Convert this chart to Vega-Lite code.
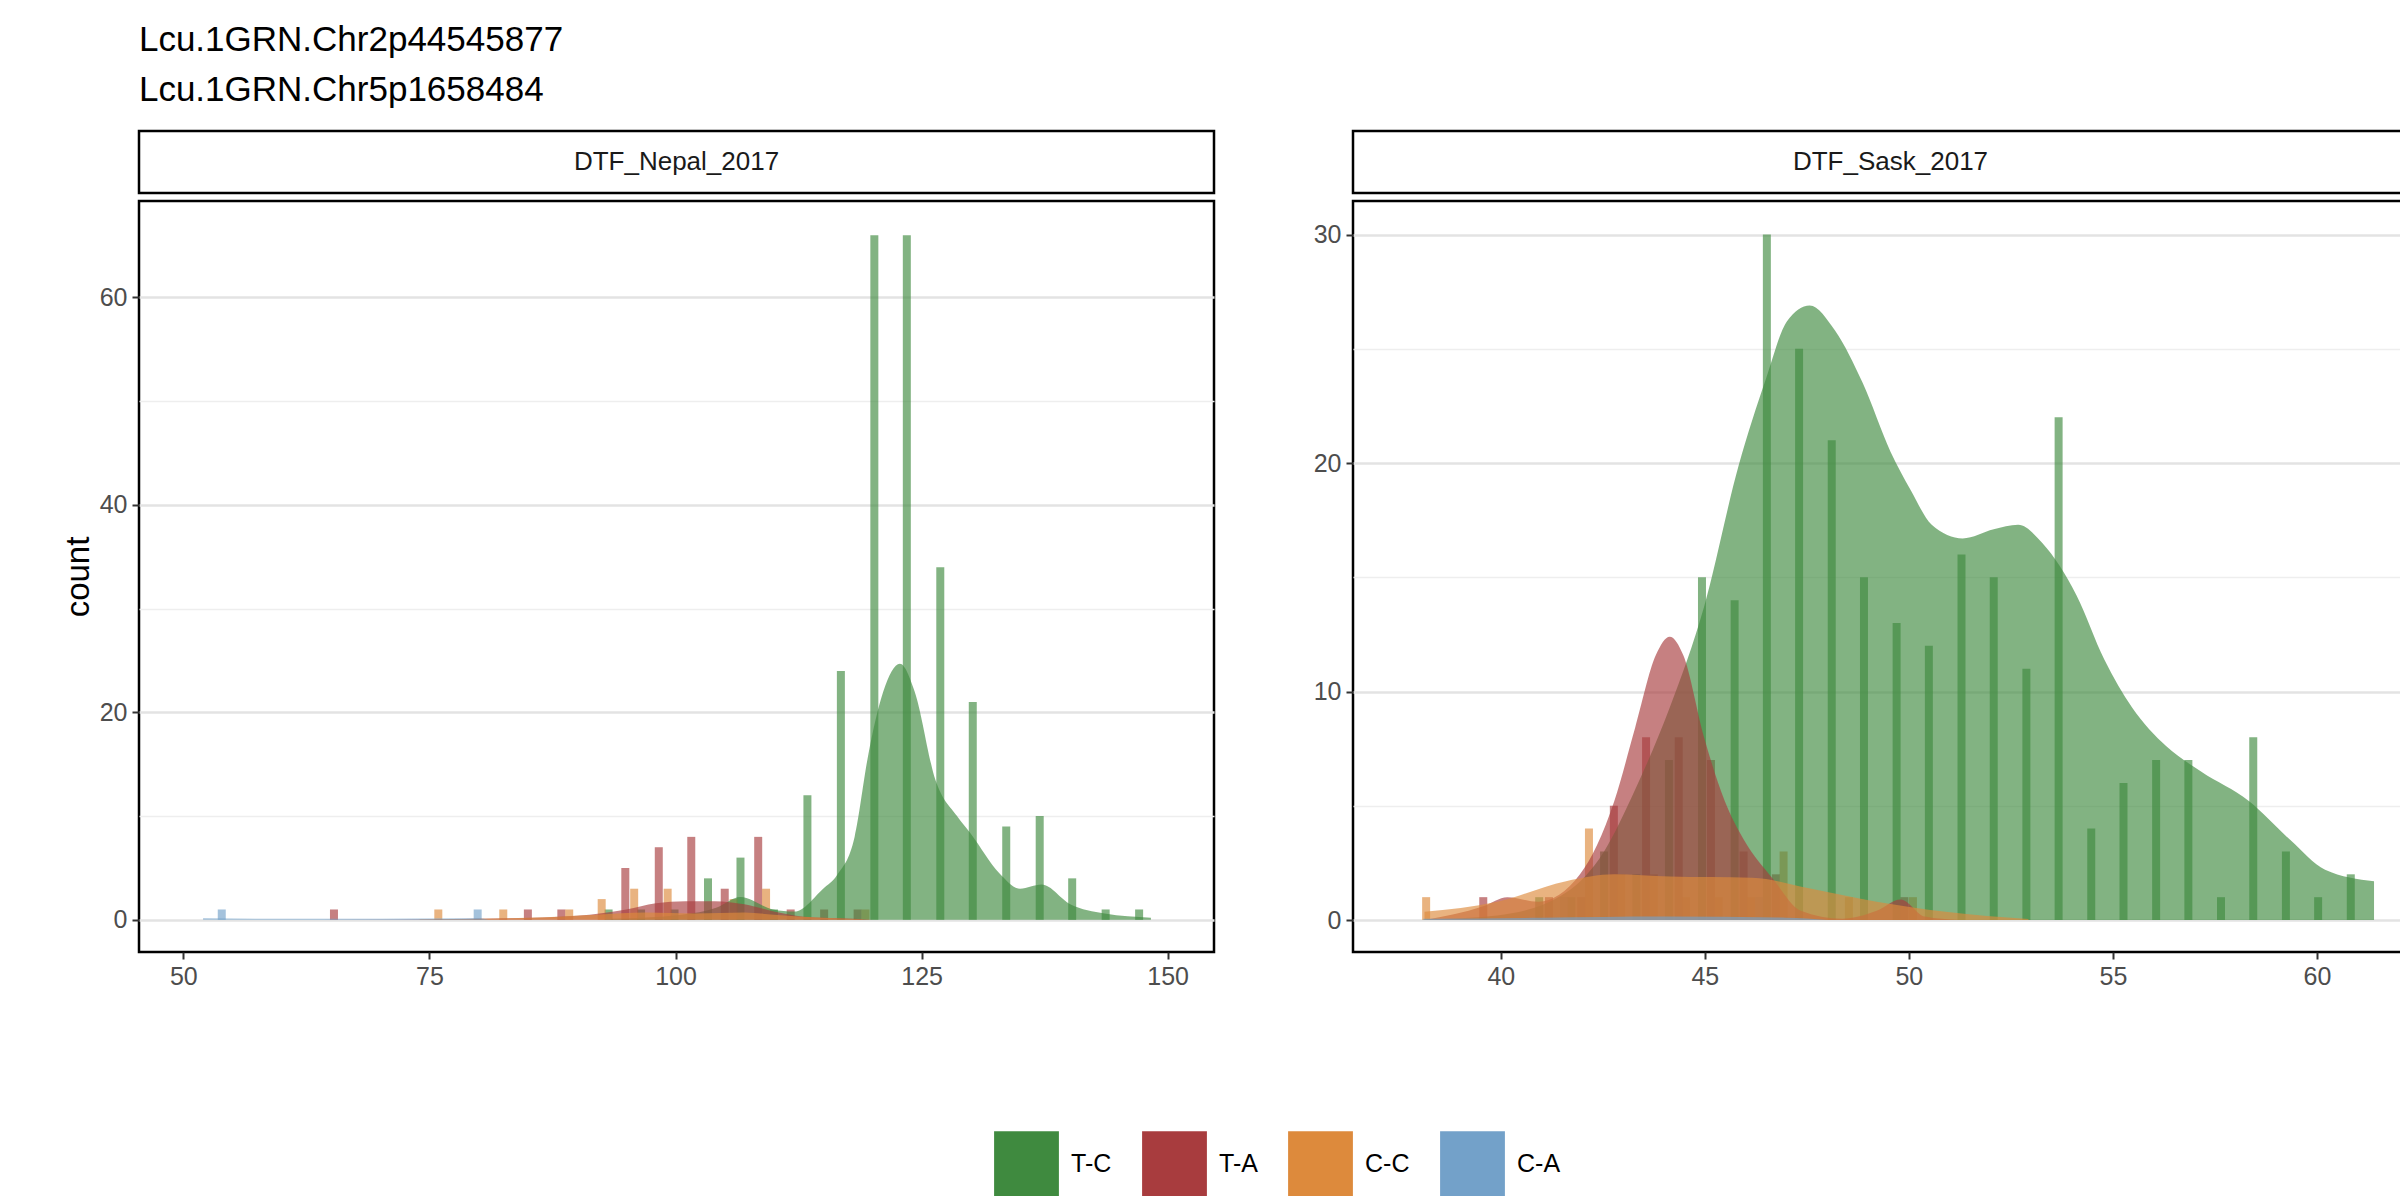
{
  "$schema": "https://vega.github.io/schema/vega-lite/v6.json",
  "padding": {"left": 60, "top": 22, "right": 25, "bottom": 10},
  "background": "white",
  "title": {"text": ["Lcu.1GRN.Chr2p44545877", "Lcu.1GRN.Chr5p1658484"], "anchor": "start", "fontSize": 35, "fontWeight": "normal", "font": "Liberation Sans", "color": "black", "lineHeight": 50, "offset": 22, "dx": 78},
  "config": {
    "font": "Liberation Sans",
    "view": {"stroke": "black", "strokeWidth": 2.5},
    "axis": {"labelFontSize": 25, "labelColor": "#4d4d4d", "tickColor": "#333333", "tickSize": 7, "tickWidth": 2, "domain": false, "titleFontWeight": "normal", "titleFontSize": 33, "titleColor": "black", "labelPadding": 5},
    "legend": {"orient": "none", "legendX": 855, "legendY": 1000, "direction": "horizontal", "symbolType": "square", "symbolSize": 4200, "labelFontSize": 25, "labelColor": "black", "columnPadding": 30, "symbolOpacity": 1, "symbolStrokeWidth": 0, "title": null, "labelOffset": 12}
  },
  "datasets": {
    "bars": [
      {"panel": "Nepal", "geno": "T-C", "x": 93.2, "count": 1},
      {"panel": "Nepal", "geno": "T-C", "x": 96.5, "count": 1},
      {"panel": "Nepal", "geno": "T-C", "x": 99.9, "count": 1},
      {"panel": "Nepal", "geno": "T-C", "x": 103.3, "count": 4},
      {"panel": "Nepal", "geno": "T-C", "x": 106.6, "count": 6},
      {"panel": "Nepal", "geno": "T-C", "x": 110.0, "count": 1},
      {"panel": "Nepal", "geno": "T-C", "x": 113.4, "count": 12},
      {"panel": "Nepal", "geno": "T-C", "x": 116.8, "count": 24},
      {"panel": "Nepal", "geno": "T-C", "x": 120.2, "count": 66},
      {"panel": "Nepal", "geno": "T-C", "x": 123.5, "count": 66},
      {"panel": "Nepal", "geno": "T-C", "x": 126.9, "count": 34},
      {"panel": "Nepal", "geno": "T-C", "x": 130.2, "count": 21},
      {"panel": "Nepal", "geno": "T-C", "x": 133.6, "count": 9},
      {"panel": "Nepal", "geno": "T-C", "x": 137.0, "count": 10},
      {"panel": "Nepal", "geno": "T-C", "x": 140.3, "count": 4},
      {"panel": "Nepal", "geno": "T-C", "x": 143.7, "count": 1},
      {"panel": "Nepal", "geno": "T-C", "x": 147.1, "count": 1},
      {"panel": "Nepal", "geno": "T-A", "x": 65.3, "count": 1},
      {"panel": "Nepal", "geno": "T-A", "x": 85.0, "count": 1},
      {"panel": "Nepal", "geno": "T-A", "x": 88.4, "count": 1},
      {"panel": "Nepal", "geno": "T-A", "x": 94.9, "count": 5},
      {"panel": "Nepal", "geno": "T-A", "x": 98.3, "count": 7},
      {"panel": "Nepal", "geno": "T-A", "x": 101.6, "count": 8},
      {"panel": "Nepal", "geno": "T-A", "x": 105.0, "count": 3},
      {"panel": "Nepal", "geno": "T-A", "x": 108.4, "count": 8},
      {"panel": "Nepal", "geno": "T-A", "x": 111.7, "count": 1},
      {"panel": "Nepal", "geno": "T-A", "x": 115.1, "count": 1},
      {"panel": "Nepal", "geno": "T-A", "x": 118.5, "count": 1},
      {"panel": "Nepal", "geno": "C-C", "x": 75.9, "count": 1},
      {"panel": "Nepal", "geno": "C-C", "x": 82.5, "count": 1},
      {"panel": "Nepal", "geno": "C-C", "x": 89.2, "count": 1},
      {"panel": "Nepal", "geno": "C-C", "x": 92.5, "count": 2},
      {"panel": "Nepal", "geno": "C-C", "x": 95.8, "count": 3},
      {"panel": "Nepal", "geno": "C-C", "x": 99.2, "count": 3},
      {"panel": "Nepal", "geno": "C-C", "x": 105.9, "count": 2},
      {"panel": "Nepal", "geno": "C-C", "x": 109.2, "count": 3},
      {"panel": "Nepal", "geno": "C-C", "x": 119.3, "count": 1},
      {"panel": "Nepal", "geno": "C-A", "x": 53.9, "count": 1},
      {"panel": "Nepal", "geno": "C-A", "x": 79.9, "count": 1},
      {"panel": "Sask", "geno": "T-C", "x": 40.94, "count": 1},
      {"panel": "Sask", "geno": "T-C", "x": 41.73, "count": 1},
      {"panel": "Sask", "geno": "T-C", "x": 42.53, "count": 3},
      {"panel": "Sask", "geno": "T-C", "x": 43.32, "count": 2},
      {"panel": "Sask", "geno": "T-C", "x": 44.12, "count": 7},
      {"panel": "Sask", "geno": "T-C", "x": 44.93, "count": 15},
      {"panel": "Sask", "geno": "T-C", "x": 45.73, "count": 14},
      {"panel": "Sask", "geno": "T-C", "x": 46.52, "count": 30},
      {"panel": "Sask", "geno": "T-C", "x": 47.31, "count": 25},
      {"panel": "Sask", "geno": "T-C", "x": 48.11, "count": 21},
      {"panel": "Sask", "geno": "T-C", "x": 48.90, "count": 15},
      {"panel": "Sask", "geno": "T-C", "x": 49.70, "count": 13},
      {"panel": "Sask", "geno": "T-C", "x": 50.49, "count": 12},
      {"panel": "Sask", "geno": "T-C", "x": 51.29, "count": 16},
      {"panel": "Sask", "geno": "T-C", "x": 52.08, "count": 15},
      {"panel": "Sask", "geno": "T-C", "x": 52.88, "count": 11},
      {"panel": "Sask", "geno": "T-C", "x": 53.67, "count": 22},
      {"panel": "Sask", "geno": "T-C", "x": 54.47, "count": 4},
      {"panel": "Sask", "geno": "T-C", "x": 55.26, "count": 6},
      {"panel": "Sask", "geno": "T-C", "x": 56.06, "count": 7},
      {"panel": "Sask", "geno": "T-C", "x": 56.85, "count": 7},
      {"panel": "Sask", "geno": "T-C", "x": 57.65, "count": 1},
      {"panel": "Sask", "geno": "T-C", "x": 58.44, "count": 8},
      {"panel": "Sask", "geno": "T-C", "x": 59.24, "count": 3},
      {"panel": "Sask", "geno": "T-C", "x": 60.03, "count": 1},
      {"panel": "Sask", "geno": "T-C", "x": 60.83, "count": 2},
      {"panel": "Sask", "geno": "T-A", "x": 39.57, "count": 1},
      {"panel": "Sask", "geno": "T-A", "x": 41.18, "count": 1},
      {"panel": "Sask", "geno": "T-A", "x": 41.97, "count": 1},
      {"panel": "Sask", "geno": "T-A", "x": 42.77, "count": 5},
      {"panel": "Sask", "geno": "T-A", "x": 43.56, "count": 8},
      {"panel": "Sask", "geno": "T-A", "x": 44.36, "count": 8},
      {"panel": "Sask", "geno": "T-A", "x": 45.15, "count": 7},
      {"panel": "Sask", "geno": "T-A", "x": 45.95, "count": 3},
      {"panel": "Sask", "geno": "T-A", "x": 46.74, "count": 2},
      {"panel": "Sask", "geno": "T-A", "x": 49.89, "count": 1},
      {"panel": "Sask", "geno": "C-C", "x": 38.17, "count": 1},
      {"panel": "Sask", "geno": "C-C", "x": 42.16, "count": 4},
      {"panel": "Sask", "geno": "C-C", "x": 42.95, "count": 2},
      {"panel": "Sask", "geno": "C-C", "x": 43.75, "count": 2},
      {"panel": "Sask", "geno": "C-C", "x": 44.54, "count": 1},
      {"panel": "Sask", "geno": "C-C", "x": 45.34, "count": 1},
      {"panel": "Sask", "geno": "C-C", "x": 46.13, "count": 1},
      {"panel": "Sask", "geno": "C-C", "x": 46.93, "count": 3},
      {"panel": "Sask", "geno": "C-C", "x": 48.53, "count": 1},
      {"panel": "Sask", "geno": "C-C", "x": 50.10, "count": 1},
      {"panel": "Sask", "geno": "C-A", "x": 41.55, "count": 1},
      {"panel": "Sask", "geno": "C-A", "x": 46.33, "count": 1}
    ],
    "dens": [
      {"panel": "Nepal", "geno": "T-C", "x": 93.5, "y": 0.1},
      {"panel": "Nepal", "geno": "T-C", "x": 100.6, "y": 0.5},
      {"panel": "Nepal", "geno": "T-C", "x": 104.2, "y": 1.2},
      {"panel": "Nepal", "geno": "T-C", "x": 106.6, "y": 2.2},
      {"panel": "Nepal", "geno": "T-C", "x": 109.9, "y": 1.0},
      {"panel": "Nepal", "geno": "T-C", "x": 112.1, "y": 0.8},
      {"panel": "Nepal", "geno": "T-C", "x": 115.0, "y": 3.0},
      {"panel": "Nepal", "geno": "T-C", "x": 116.4, "y": 4.3},
      {"panel": "Nepal", "geno": "T-C", "x": 118.2, "y": 8.0},
      {"panel": "Nepal", "geno": "T-C", "x": 119.6, "y": 16.0},
      {"panel": "Nepal", "geno": "T-C", "x": 121.1, "y": 22.0},
      {"panel": "Nepal", "geno": "T-C", "x": 122.8, "y": 24.7},
      {"panel": "Nepal", "geno": "T-C", "x": 124.3, "y": 22.0},
      {"panel": "Nepal", "geno": "T-C", "x": 126.4, "y": 13.5},
      {"panel": "Nepal", "geno": "T-C", "x": 128.6, "y": 10.0},
      {"panel": "Nepal", "geno": "T-C", "x": 130.0, "y": 8.3},
      {"panel": "Nepal", "geno": "T-C", "x": 132.9, "y": 4.5},
      {"panel": "Nepal", "geno": "T-C", "x": 135.0, "y": 3.0},
      {"panel": "Nepal", "geno": "T-C", "x": 137.2, "y": 3.4},
      {"panel": "Nepal", "geno": "T-C", "x": 140.1, "y": 1.5},
      {"panel": "Nepal", "geno": "T-C", "x": 143.6, "y": 0.6},
      {"panel": "Nepal", "geno": "T-C", "x": 148.3, "y": 0.2},
      {"panel": "Nepal", "geno": "T-A", "x": 63.5, "y": 0.0},
      {"panel": "Nepal", "geno": "T-A", "x": 80.0, "y": 0.1},
      {"panel": "Nepal", "geno": "T-A", "x": 90.0, "y": 0.4},
      {"panel": "Nepal", "geno": "T-A", "x": 95.0, "y": 1.0},
      {"panel": "Nepal", "geno": "T-A", "x": 98.0, "y": 1.6},
      {"panel": "Nepal", "geno": "T-A", "x": 101.0, "y": 1.8},
      {"panel": "Nepal", "geno": "T-A", "x": 104.0, "y": 1.8},
      {"panel": "Nepal", "geno": "T-A", "x": 107.0, "y": 1.5},
      {"panel": "Nepal", "geno": "T-A", "x": 110.0, "y": 0.8},
      {"panel": "Nepal", "geno": "T-A", "x": 113.0, "y": 0.3},
      {"panel": "Nepal", "geno": "T-A", "x": 118.0, "y": 0.1},
      {"panel": "Nepal", "geno": "T-A", "x": 120.0, "y": 0.0},
      {"panel": "Nepal", "geno": "C-C", "x": 74.0, "y": 0.05},
      {"panel": "Nepal", "geno": "C-C", "x": 85.0, "y": 0.2},
      {"panel": "Nepal", "geno": "C-C", "x": 92.0, "y": 0.5},
      {"panel": "Nepal", "geno": "C-C", "x": 97.0, "y": 0.7},
      {"panel": "Nepal", "geno": "C-C", "x": 102.0, "y": 0.6},
      {"panel": "Nepal", "geno": "C-C", "x": 107.0, "y": 0.7},
      {"panel": "Nepal", "geno": "C-C", "x": 110.0, "y": 0.5},
      {"panel": "Nepal", "geno": "C-C", "x": 115.0, "y": 0.2},
      {"panel": "Nepal", "geno": "C-C", "x": 119.0, "y": 0.05},
      {"panel": "Nepal", "geno": "C-A", "x": 52.0, "y": 0.15},
      {"panel": "Nepal", "geno": "C-A", "x": 60.0, "y": 0.1},
      {"panel": "Nepal", "geno": "C-A", "x": 70.0, "y": 0.1},
      {"panel": "Nepal", "geno": "C-A", "x": 80.0, "y": 0.15},
      {"panel": "Nepal", "geno": "C-A", "x": 81.0, "y": 0.0},
      {"panel": "Sask", "geno": "T-C", "x": 38.13, "y": 0.02},
      {"panel": "Sask", "geno": "T-C", "x": 39.91, "y": 0.2},
      {"panel": "Sask", "geno": "T-C", "x": 41.60, "y": 1.2},
      {"panel": "Sask", "geno": "T-C", "x": 42.53, "y": 3.0},
      {"panel": "Sask", "geno": "T-C", "x": 43.29, "y": 5.7},
      {"panel": "Sask", "geno": "T-C", "x": 44.14, "y": 9.3},
      {"panel": "Sask", "geno": "T-C", "x": 44.98, "y": 13.7},
      {"panel": "Sask", "geno": "T-C", "x": 45.83, "y": 19.9},
      {"panel": "Sask", "geno": "T-C", "x": 46.50, "y": 23.7},
      {"panel": "Sask", "geno": "T-C", "x": 47.01, "y": 26.2},
      {"panel": "Sask", "geno": "T-C", "x": 47.57, "y": 26.9},
      {"panel": "Sask", "geno": "T-C", "x": 48.19, "y": 25.8},
      {"panel": "Sask", "geno": "T-C", "x": 48.87, "y": 23.5},
      {"panel": "Sask", "geno": "T-C", "x": 49.55, "y": 20.5},
      {"panel": "Sask", "geno": "T-C", "x": 50.05, "y": 18.8},
      {"panel": "Sask", "geno": "T-C", "x": 50.56, "y": 17.3},
      {"panel": "Sask", "geno": "T-C", "x": 51.32, "y": 16.7},
      {"panel": "Sask", "geno": "T-C", "x": 52.08, "y": 17.1},
      {"panel": "Sask", "geno": "T-C", "x": 52.68, "y": 17.3},
      {"panel": "Sask", "geno": "T-C", "x": 53.27, "y": 16.5},
      {"panel": "Sask", "geno": "T-C", "x": 54.11, "y": 14.2},
      {"panel": "Sask", "geno": "T-C", "x": 54.79, "y": 11.4},
      {"panel": "Sask", "geno": "T-C", "x": 55.47, "y": 9.3},
      {"panel": "Sask", "geno": "T-C", "x": 56.31, "y": 7.6},
      {"panel": "Sask", "geno": "T-C", "x": 57.16, "y": 6.5},
      {"panel": "Sask", "geno": "T-C", "x": 58.34, "y": 5.2},
      {"panel": "Sask", "geno": "T-C", "x": 59.35, "y": 3.5},
      {"panel": "Sask", "geno": "T-C", "x": 60.20, "y": 2.2},
      {"panel": "Sask", "geno": "T-C", "x": 61.40, "y": 1.7},
      {"panel": "Sask", "geno": "T-A", "x": 38.13, "y": 0.0},
      {"panel": "Sask", "geno": "T-A", "x": 39.57, "y": 0.6},
      {"panel": "Sask", "geno": "T-A", "x": 40.16, "y": 1.0},
      {"panel": "Sask", "geno": "T-A", "x": 40.92, "y": 0.8},
      {"panel": "Sask", "geno": "T-A", "x": 41.94, "y": 2.0},
      {"panel": "Sask", "geno": "T-A", "x": 42.78, "y": 5.2},
      {"panel": "Sask", "geno": "T-A", "x": 43.29, "y": 8.4},
      {"panel": "Sask", "geno": "T-A", "x": 43.80, "y": 11.6},
      {"panel": "Sask", "geno": "T-A", "x": 44.14, "y": 12.4},
      {"panel": "Sask", "geno": "T-A", "x": 44.47, "y": 11.6},
      {"panel": "Sask", "geno": "T-A", "x": 44.98, "y": 8.0},
      {"panel": "Sask", "geno": "T-A", "x": 45.49, "y": 5.2},
      {"panel": "Sask", "geno": "T-A", "x": 45.96, "y": 3.5},
      {"panel": "Sask", "geno": "T-A", "x": 46.67, "y": 1.8},
      {"panel": "Sask", "geno": "T-A", "x": 47.35, "y": 0.4},
      {"panel": "Sask", "geno": "T-A", "x": 48.36, "y": 0.05},
      {"panel": "Sask", "geno": "T-A", "x": 49.21, "y": 0.4},
      {"panel": "Sask", "geno": "T-A", "x": 49.80, "y": 0.9},
      {"panel": "Sask", "geno": "T-A", "x": 50.39, "y": 0.15},
      {"panel": "Sask", "geno": "T-A", "x": 51.24, "y": 0.0},
      {"panel": "Sask", "geno": "C-C", "x": 38.13, "y": 0.36},
      {"panel": "Sask", "geno": "C-C", "x": 39.91, "y": 0.8},
      {"panel": "Sask", "geno": "C-C", "x": 41.60, "y": 1.7},
      {"panel": "Sask", "geno": "C-C", "x": 42.78, "y": 2.0},
      {"panel": "Sask", "geno": "C-C", "x": 44.14, "y": 1.9},
      {"panel": "Sask", "geno": "C-C", "x": 46.16, "y": 1.85},
      {"panel": "Sask", "geno": "C-C", "x": 47.52, "y": 1.4},
      {"panel": "Sask", "geno": "C-C", "x": 49.21, "y": 0.8},
      {"panel": "Sask", "geno": "C-C", "x": 50.90, "y": 0.36},
      {"panel": "Sask", "geno": "C-C", "x": 52.93, "y": 0.04},
      {"panel": "Sask", "geno": "C-A", "x": 38.1, "y": 0.05},
      {"panel": "Sask", "geno": "C-A", "x": 41.0, "y": 0.1},
      {"panel": "Sask", "geno": "C-A", "x": 44.0, "y": 0.15},
      {"panel": "Sask", "geno": "C-A", "x": 47.0, "y": 0.1},
      {"panel": "Sask", "geno": "C-A", "x": 48.0, "y": 0.0}
    ]
  },
  "hconcat": [
    {
      "spacing": 4,
      "vconcat": [
        {
          "width": 1075, "height": 62,
          "view": {"stroke": "black", "strokeWidth": 2.5},
          "data": {"values": [{"t": "DTF_Nepal_2017"}]},
          "mark": {"type": "text", "fontSize": 26, "color": "#1a1a1a"},
          "encoding": {"text": {"field": "t"}}
        },
        {
          "width": 1075, "height": 751,
          "layer": [
            {
              "data": {"name": "bars"},
              "transform": [{"filter": "datum.panel === 'Nepal'"}],
              "mark": {"type": "bar", "size": 8, "opacity": 0.65},
              "encoding": {
                "x": {"field": "x", "type": "quantitative", "scale": {"domain": [46, 154.2], "nice": false, "zero": false}, "axis": {"values": [50, 75, 100, 125, 150], "title": null, "grid": false}},
                "y": {"field": "count", "type": "quantitative", "scale": {"domain": [-3.1, 69.3], "nice": false, "zero": false}, "axis": {"values": [0, 10, 20, 30, 40, 50, 60], "title": "count", "labelExpr": "datum.value % 20 === 0 ? datum.label : ''", "tickOpacity": {"condition": {"test": "datum.value % 20 === 0", "value": 1}, "value": 0}, "gridColor": {"condition": {"test": "datum.value % 20 === 0", "value": "#e3e3e3"}, "value": "#eeeeee"}, "gridWidth": {"condition": {"test": "datum.value % 20 === 0", "value": 2.5}, "value": 1.5}}},
                "y2": {"datum": 0},
                "color": {"field": "geno", "type": "nominal", "sort": ["T-C", "T-A", "C-C", "C-A"], "scale": {"domain": ["T-C", "T-A", "C-C", "C-A"], "range": ["#3f8a3f", "#a83c3e", "#dd8a3c", "#73a1c9"]}}
              }
            },
            {
              "data": {"name": "dens"},
              "transform": [{"filter": "datum.panel === 'Nepal'"}],
              "mark": {"type": "area", "opacity": 0.65, "interpolate": "monotone"},
              "encoding": {
                "x": {"field": "x", "type": "quantitative"},
                "y": {"field": "y", "type": "quantitative"},
                "y2": {"datum": 0},
                "color": {"field": "geno", "type": "nominal"},
                "detail": {"field": "geno"}
              }
            }
          ]
        }
      ]
    },
    {
      "spacing": 4,
      "vconcat": [
        {
          "width": 1075, "height": 62,
          "view": {"stroke": "black", "strokeWidth": 2.5},
          "data": {"values": [{"t": "DTF_Sask_2017"}]},
          "mark": {"type": "text", "fontSize": 26, "color": "#1a1a1a"},
          "encoding": {"text": {"field": "t"}}
        },
        {
          "width": 1075, "height": 751,
          "layer": [
            {
              "data": {"name": "bars"},
              "transform": [{"filter": "datum.panel === 'Sask'"}],
              "mark": {"type": "bar", "size": 8, "opacity": 0.65},
              "encoding": {
                "x": {"field": "x", "type": "quantitative", "scale": {"domain": [36.5, 62.6], "nice": false, "zero": false}, "axis": {"values": [40, 45, 50, 55, 60], "title": null, "grid": false}},
                "y": {"field": "count", "type": "quantitative", "scale": {"domain": [-1.4, 31.47], "nice": false, "zero": false}, "axis": {"values": [0, 5, 10, 15, 20, 25, 30], "title": null, "labelExpr": "datum.value % 10 === 0 ? datum.label : ''", "tickOpacity": {"condition": {"test": "datum.value % 10 === 0", "value": 1}, "value": 0}, "gridColor": {"condition": {"test": "datum.value % 10 === 0", "value": "#e3e3e3"}, "value": "#eeeeee"}, "gridWidth": {"condition": {"test": "datum.value % 10 === 0", "value": 2.5}, "value": 1.5}}},
                "y2": {"datum": 0},
                "color": {"field": "geno", "type": "nominal"}
              }
            },
            {
              "data": {"name": "dens"},
              "transform": [{"filter": "datum.panel === 'Sask'"}],
              "mark": {"type": "area", "opacity": 0.65, "interpolate": "monotone"},
              "encoding": {
                "x": {"field": "x", "type": "quantitative"},
                "y": {"field": "y", "type": "quantitative"},
                "y2": {"datum": 0},
                "color": {"field": "geno", "type": "nominal"},
                "detail": {"field": "geno"}
              }
            }
          ]
        }
      ]
    }
  ],
  "spacing": 95,
  "resolve": {"scale": {"color": "shared"}}
}
